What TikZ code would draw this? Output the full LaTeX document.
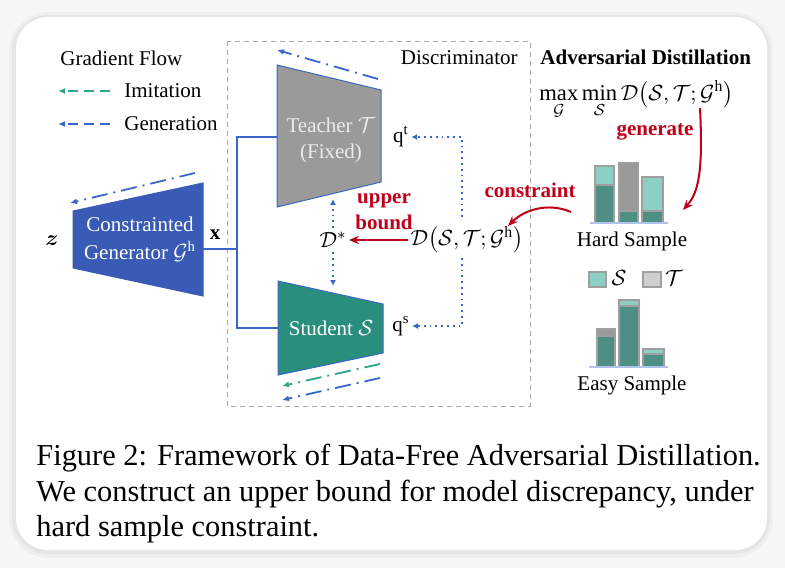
\documentclass[tikz,border=0pt]{standalone}
\usepackage{amsmath,bm}
\usepackage{fontspec}
\setmainfont{Liberation Serif}
\usetikzlibrary{arrows.meta}

\definecolor{genblue}{HTML}{3A5BB5}
\definecolor{stuteal}{HTML}{2A8E7D}
\definecolor{teagray}{HTML}{9A9A9A}
\definecolor{flowblue}{HTML}{3A66C8}
\definecolor{flowteal}{HTML}{2FA38B}
\definecolor{redarrow}{HTML}{C0001A}
\definecolor{barlight}{HTML}{8CCFC4}
\definecolor{bardark}{HTML}{4F8E84}
\definecolor{bargray}{HTML}{999999}
\definecolor{legray}{HTML}{CFCFCF}

\tikzset{
  txt/.style={font=\fontsize{10.5}{12}\selectfont, inner sep=1pt},
  redtxt/.style={txt, text=redarrow, font=\fontsize{10.5}{13}\selectfont\bfseries},
  link/.style={flowblue, line width=0.8pt},
  genflow/.style={flowblue, line width=0.9pt, dash pattern=on 8pt off 3pt on 1pt off 3pt, -{Latex[length=3.5pt,width=3pt]}},
  imiflow/.style={flowteal, line width=0.9pt, dash pattern=on 8pt off 3pt on 1pt off 3pt, -{Latex[length=3.5pt,width=3pt]}},
  dotarrow/.style={flowblue, line width=0.9pt, dotted, -{Latex[length=3pt,width=3pt]}},
  redarr/.style={redarrow, line width=1pt, -{Stealth[length=5pt,width=4pt]}},
  barbox/.style={draw=gray!75, line width=0.6pt},
}

\begin{document}
\begin{tikzpicture}[x=0.5pt, y=-0.5pt]
  % Fond et carte
  \fill[gray!6] (0,0) rectangle (785,568);
  \fill[black, opacity=0.03, rounded corners=20] (9,12) rectangle (773,558);
  \fill[black, opacity=0.04, rounded corners=18] (12,15) rectangle (770,554);
  \fill[white, rounded corners=16] (16,17) rectangle (767,550);

  % Legende du gradient
  \node[txt, anchor=west] (gflow) at (58,58) {Gradient Flow};
  \node[txt, anchor=west] (imitxt) at (122,91) {Imitation};
  \node[txt, anchor=west] (gentxt) at (122,124) {Generation};
  \draw[flowteal, line width=0.9pt, dash pattern=on 5pt off 3pt, -{Latex[length=3.5pt,width=3pt]}] ([xshift=-6pt]imitxt.west) -- ++(-52,0);
  \draw[flowblue, line width=0.9pt, dash pattern=on 5pt off 3pt, -{Latex[length=3.5pt,width=3pt]}] ([xshift=-6pt]gentxt.west) -- ++(-52,0);

  % Discriminateur
  \draw[gray!70, line width=0.5pt, dash pattern=on 2.5pt off 2pt] (227,41) rectangle (530,406);
  \node[txt, anchor=east] (disc) at (520,58) {Discriminator};

  % Generateur
  \filldraw[fill=genblue, draw=genblue, line width=0.5pt] (73,211) -- (203,183) -- (203,296) -- (73,268) -- cycle;
  \node[txt, text=white, align=center, font=\fontsize{10.5}{14}\selectfont] (gen) at (140,239) {Constrainted\\Generator $\mathcal{G}^{\mathrm{h}}$};
  \coordinate (gtail) at (195,173);
  \coordinate (ghead) at (70,203);
  \draw[genflow] (gtail) -- (ghead);
  \node[txt] (zin) at (52,241) {$\bm{z}$};
  \node[txt] (xin) at (215,235) {$\mathbf{x}$};

  % Professeur
  \filldraw[fill=teagray, draw=flowblue, line width=0.5pt] (277,65) -- (381,90) -- (381,182) -- (277,207) -- cycle;
  \node[txt, text=gray!15, align=center, font=\fontsize{10.5}{13}\selectfont] (teacher) at (331,140) {Teacher $\mathcal{T}$\\(Fixed)};
  \coordinate (ttail) at (378,79);
  \coordinate (thead) at (277,50);
  \draw[genflow] (ttail) -- (thead);

  % Etudiant
  \filldraw[fill=stuteal, draw=flowblue, line width=0.5pt] (278,281) -- (383,304) -- (383,353) -- (278,375) -- cycle;
  \node[txt, text=white] (student) at (331,328) {Student $\mathcal{S}$};
  \coordinate (s1tail) at (380,364);
  \coordinate (s1head) at (282,386);
  \coordinate (s2tail) at (380,378);
  \coordinate (s2head) at (282,400);
  \draw[imiflow] (s1tail) -- (s1head);
  \draw[genflow] (s2tail) -- (s2head);

  % Liaisons
  \coordinate (gout) at (203,249);
  \coordinate (split) at (237,249);
  \coordinate (tin) at (277,137);
  \coordinate (sin) at (278,328);
  \draw[link] (gout) -- (split);
  \draw[link] (tin) -| (split) |- (sin);

  % Sorties et divergence
  \node[txt] (qt) at (401,137) {$\mathrm{q}^{\mathrm{t}}$};
  \node[txt] (qs) at (401,326) {$\mathrm{q}^{\mathrm{s}}$};
  \node[txt, font=\fontsize{11.3}{12}\selectfont] (dloss) at (467,240) {$\mathcal{D}\big(\mathcal{S},\mathcal{T};\mathcal{G}^{\mathrm{h}}\big)$};
  \coordinate (dup) at (462,217);
  \coordinate (ddown) at (462,258);
  \draw[dotarrow] (dup) |- (qt.east);
  \draw[dotarrow] (ddown) |- (qs.east);
  \node[txt, font=\fontsize{11}{12}\selectfont] (dstar) at (333,240) {$\mathcal{D}^{*}$};
  \coordinate (tbot) at (333,199);
  \coordinate (stop) at (333,286);
  \draw[dotarrow] ([yshift=1pt]dstar.north) -- (tbot);
  \draw[dotarrow] ([yshift=-1pt]dstar.south) -- (stop);
  \node[redtxt, align=center] (ubound) at (384,212) {upper\\bound};
  \draw[redarr] (dloss.west) -- (dstar.east);

  % Distillation adverse
  \node[txt, anchor=west, font=\fontsize{10.5}{12}\selectfont\bfseries] (advtitle) at (538,57) {Adversarial Distillation};
  \node[anchor=north west, inner sep=0pt, font=\fontsize{11.3}{12}\selectfont] (advobj) at (539,80) {$\displaystyle\max_{\mathcal{G}}\min_{\mathcal{S}}\mathcal{D}\big(\mathcal{S},\mathcal{T};\mathcal{G}^{\mathrm{h}}\big)$};
  \node[redtxt] (gentag) at (655,132) {generate};
  \coordinate (gstart) at (700,108);
  \coordinate (gend) at (683,210);
  \draw[redarr] (gstart) .. controls (703,170) and (699,192) .. (gend);
  \node[redtxt] (contag) at (530,190) {constraint};
  \coordinate (cstart) at (571,212);
  \coordinate (cend) at (508,226);
  \draw[redarr] (cstart) .. controls (548,202) and (524,210) .. (cend);

  % Echantillon difficile
  \filldraw[barbox, fill=barlight] (595,166) rectangle (614,185);
  \filldraw[barbox, fill=bardark] (595,185) rectangle (614,223);
  \filldraw[barbox, fill=bargray] (619,163) rectangle (638,211);
  \filldraw[barbox, fill=bardark] (619,211) rectangle (638,223);
  \filldraw[barbox, fill=barlight] (642,177) rectangle (663,211);
  \filldraw[barbox, fill=bardark] (642,211) rectangle (663,223);
  \draw[flowblue!40, line width=0.6pt] (590,223) -- (668,223);
  \node[txt] (hard) at (632,241) {Hard Sample};

  % Legende des barres
  \filldraw[barbox, fill=barlight] (589,272) rectangle (606,287);
  \node[txt] (legs) at (619,278) {$\mathcal{S}$};
  \filldraw[barbox, fill=legray] (643,272) rectangle (661,287);
  \node[txt] (legt) at (674,278) {$\mathcal{T}$};

  % Echantillon facile
  \filldraw[barbox, fill=bargray] (597,329) rectangle (615,336);
  \filldraw[barbox, fill=bardark] (597,336) rectangle (615,367);
  \filldraw[barbox, fill=barlight] (619,300) rectangle (639,306);
  \filldraw[barbox, fill=bardark] (619,306) rectangle (639,367);
  \filldraw[barbox, fill=barlight] (643,349) rectangle (664,354);
  \filldraw[barbox, fill=bardark] (643,354) rectangle (664,367);
  \draw[flowblue!40, line width=0.6pt] (589,367) -- (668,367);
  \node[txt] (easy) at (632,385) {Easy Sample};

  % Legende de la figure
  \node[anchor=north west, align=left, inner sep=0pt, font=\fontsize{15.2}{17.7}\selectfont] (caption) at (36,444) {Figure 2: Framework of Data-Free Adversarial Distillation.\\We construct an upper bound for model discrepancy, under\\hard sample constraint.};
\end{tikzpicture}
\end{document}
